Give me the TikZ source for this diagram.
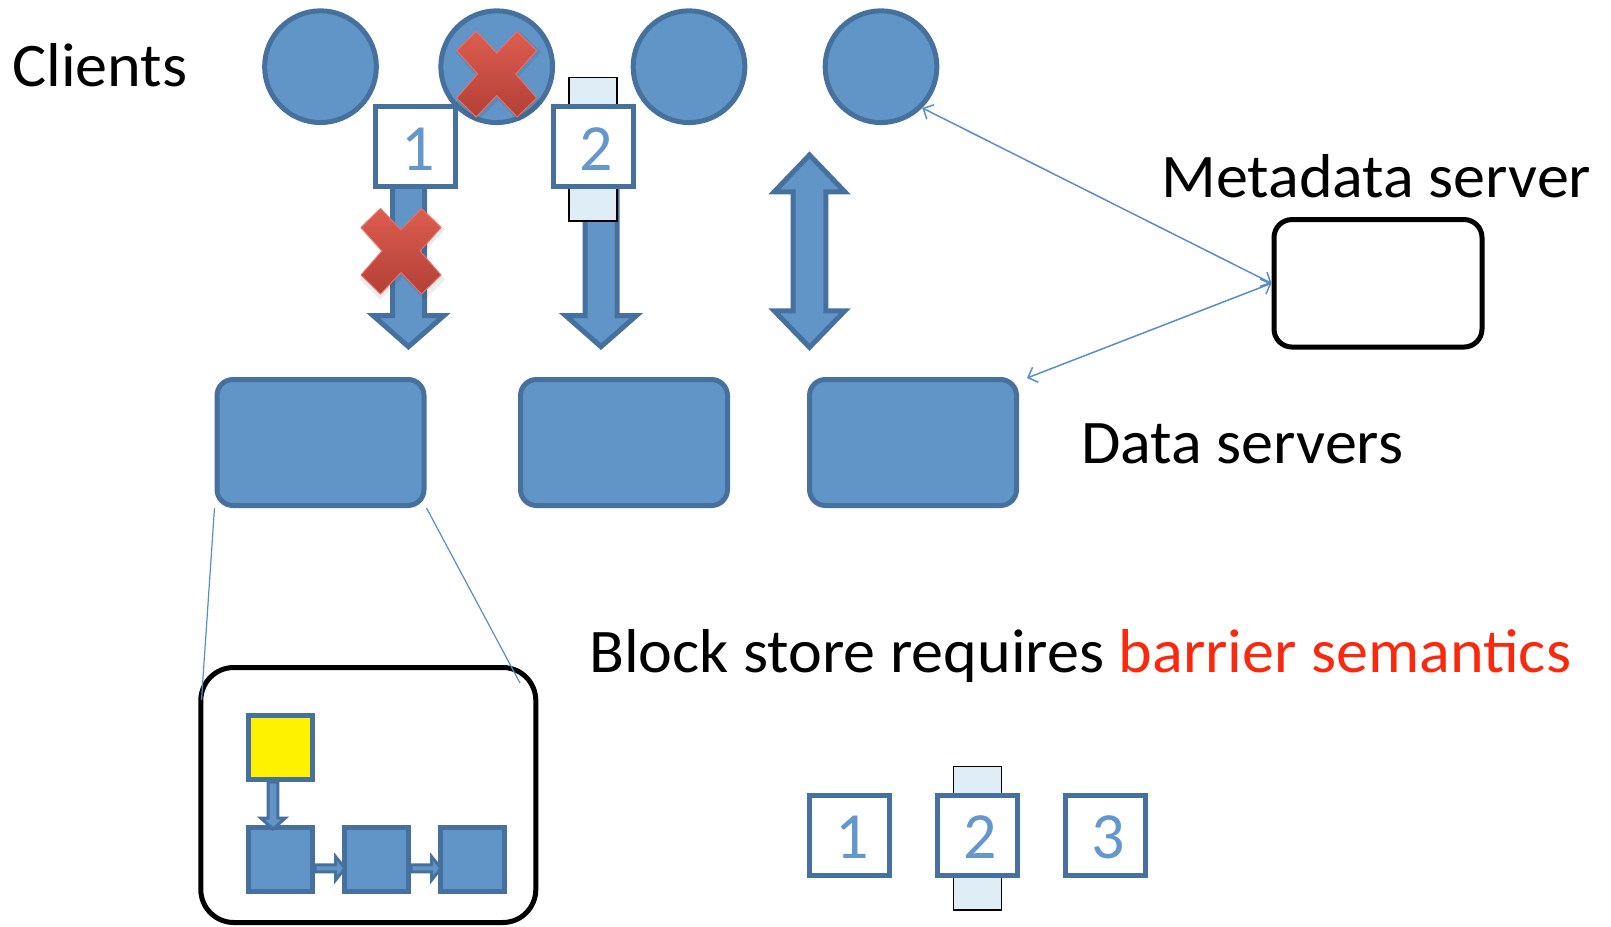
\documentclass[tikz,border=0pt]{standalone}
\usepackage{fontspec}
\setmainfont{Carlito}
\usetikzlibrary{arrows.meta,calc}
\definecolor{cfill}{RGB}{97,149,199}
\definecolor{cedge}{RGB}{70,113,158}
\definecolor{cnum}{RGB}{100,152,204}
\definecolor{cline}{RGB}{88,142,200}
\definecolor{cpale}{RGB}{222,237,246}
\definecolor{cred}{RGB}{250,40,12}
\definecolor{xtop}{RGB}{222,92,80}
\definecolor{xbot}{RGB}{178,64,54}
\definecolor{xedge}{RGB}{232,112,100}
% captions are set slightly wider than the font's natural width
\newcommand\stretchtext[1]{\scalebox{1.034}[1]{#1}}
\tikzset{
  redx/.pic={
    \path[fill=black, opacity=0.07, shift={(1.5,3)}, scale=1.07]
      (-40,-23.5) -- (-20.5,-42.5) -- (0,-21) -- (20.5,-42.5) -- (40,-23.5) -- (19,0)
      -- (40,24) -- (20.5,43) -- (0,21.5) -- (-20.5,43) -- (-40,24) -- (-19,0) -- cycle;
    \path[shade, top color=xtop, bottom color=xbot, draw=xedge, line width=1pt]
      (-40,-23.5) -- (-20.5,-42.5) -- (0,-21) -- (20.5,-42.5) -- (40,-23.5) -- (19,0)
      -- (40,24) -- (20.5,43) -- (0,21.5) -- (-20.5,43) -- (-40,24) -- (-19,0) -- cycle;
  }
}
\begin{document}
\begin{tikzpicture}[x=1pt,y=-1pt,
  client/.style={circle, fill=cfill, draw=cedge, line width=5pt, minimum size=111.7pt, inner sep=0pt},
  server/.style={rectangle, rounded corners=16pt, fill=cfill, draw=cedge, line width=5pt,
    minimum width=207pt, minimum height=126pt, inner sep=0pt},
  panel/.style={rectangle, draw=black, fill=white, line width=5pt, inner sep=0pt},
  numbox/.style={rectangle, draw=cedge, fill=white, line width=5pt, minimum size=80pt, inner sep=0pt},
  numtext/.style={anchor=base, inner sep=0pt, text=cnum, font=\fontsize{66}{79}\selectfont},
  pale/.style={rectangle, draw=black, fill=cpale, line width=1.5pt,
    minimum width=48pt, minimum height=143.5pt, inner sep=0pt},
  bigarrow/.style={fill=cfill, draw=cedge, line width=5pt},
  smallarrow/.style={fill=cfill, draw=cedge, line width=3pt},
  cell/.style={rectangle, draw=cedge, fill=cfill, line width=5pt, minimum size=64pt, inner sep=0pt},
  heading/.style={anchor=base west, inner sep=0pt, font=\fontsize{62}{74}\selectfont},
  link/.style={draw=cline, line width=1.5pt},
  twoway/.style={link, {Straight Barb[length=8pt,width=16pt]}-{Straight Barb[length=8pt,width=16pt]}},
]
\useasboundingbox (0,0) rectangle (1611,926);

% captions
\node[heading] (tclients) at (12,86) {\stretchtext{Clients}};
\node[heading] (tmeta) at (1161,197) {\stretchtext{Metadata server}};
\node[heading] (tdata) at (1081,463.5) {\stretchtext{Data servers}};
\node[heading] (tblock) at (589,672.5) {\stretchtext{Block store requires \textcolor{cred}{barrier semantics}}};

% clients
\node[client] (c1) at (320.5,66.7) {};
\node[client] (c2) at (496.7,66.7) {};
\node[client] (c3) at (689,66.7) {};
\node[client] (c4) at (881,66.7) {};

% data servers and metadata server
\node[server] (ds1) at (320.5,442.5) {};
\node[server] (ds2) at (624,442.5) {};
\node[server] (ds3) at (913,442.5) {};
\node[panel, rounded corners=18pt, minimum width=208pt, minimum height=127.5pt] (mds) at (1378,283.3) {};

% write arrows between clients and data servers
\draw[bigarrow] (392.5,180) -- (424.5,180) -- (424.5,315.5) -- (444,315.5) -- (408.5,346.7)
  -- (373,315.5) -- (392.5,315.5) -- cycle;
\draw[bigarrow] (585,190) -- (617,190) -- (617,315.5) -- (636.5,315.5) -- (601,346.7)
  -- (565.5,315.5) -- (585,315.5) -- cycle;
\draw[bigarrow] (809.5,155) -- (844.8,191.8) -- (825.8,191.8) -- (825.8,310.8) -- (844.8,310.8)
  -- (809.5,347.3) -- (774.2,310.8) -- (793.2,310.8) -- (793.2,191.8) -- (774.2,191.8) -- cycle;

% write 1 and write 2 (with barrier)
\node[numbox] (w1) at (415.5,146.5) {};
\node[numtext] (w1t) at ($(w1.center)+(3,23.5)$) {1};
\node[pale] (bar1) at (592.8,149.2) {};
\node[numbox] (w2) at (593.3,146.5) {};
\node[numtext] (w2t) at ($(w2.center)+(2.5,23.5)$) {2};

% failures
\pic at (496.7,74) {redx};
\pic at (401,251) {redx};

% metadata links
\draw[twoway] (c4.south east) -- (mds.west);
\draw[twoway] (mds.west) -- ([xshift=8pt,yshift=-1pt]ds3.north east);

% zoomed view of a data server
\node[panel, rounded corners=33pt, minimum width=335pt, minimum height=255pt] (detail) at (368.3,795) {};
\coordinate (zl) at (201.5,700);
\coordinate (zr) at (520,683);
\draw[link, line width=1.2pt] (ds1.south west) -- (zl);
\draw[link, line width=1.2pt] (ds1.south east) -- (zr);

\node[cell, fill=yellow] (y0) at (280.5,747.5) {};
\node[cell] (k1) at (280.5,859.5) {};
\node[cell] (k2) at (376.5,859.5) {};
\node[cell] (k3) at (472.5,859.5) {};
\draw[smallarrow] (268.2,782) -- (277.8,782) -- (277.8,818) -- (285.3,818) -- (273,829)
  -- (260.7,818) -- (268.2,818) -- cycle;
\draw[smallarrow] (315,864.8) -- (335.5,864.8) -- (335.5,856.5) -- (345,868.3) -- (335.5,880.1)
  -- (335.5,871.8) -- (315,871.8) -- cycle;
\draw[smallarrow] (411,864.8) -- (431.5,864.8) -- (431.5,856.5) -- (441,868.3) -- (431.5,880.1)
  -- (431.5,871.8) -- (411,871.8) -- cycle;

% ordering of writes with a barrier
\node[numbox] (o1) at (849.2,835.8) {};
\node[numtext] (o1t) at ($(o1.center)+(3,22.5)$) {1};
\node[pale] (bar2) at (977.5,838.3) {};
\node[numbox] (o2) at (977.5,835.8) {};
\node[numtext] (o2t) at ($(o2.center)+(2.5,22.5)$) {2};
\node[numbox] (o3) at (1105.8,835.8) {};
\node[numtext] (o3t) at ($(o3.center)+(2.5,22.5)$) {3};
\end{tikzpicture}
\end{document}
